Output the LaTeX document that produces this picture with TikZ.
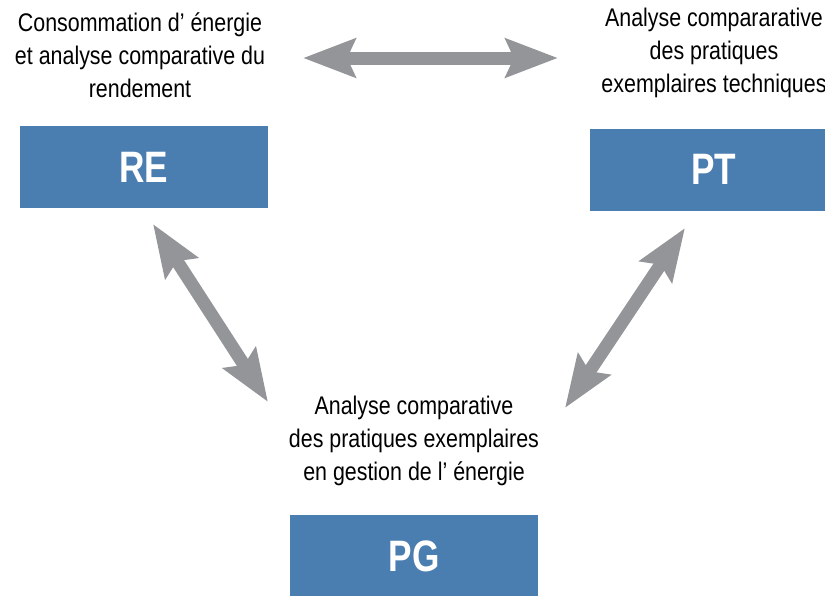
\documentclass[tikz,border=0pt]{standalone}
\usepackage{fontspec}
\usetikzlibrary{arrows.meta}
\newfontfamily\captfont[FakeStretch=0.84]{Liberation Sans}
\newfontfamily\boxfont[FakeStretch=0.8]{Liberation Sans Bold}
\definecolor{boxblue}{HTML}{4A7EB0}
\definecolor{arrgray}{HTML}{939598}
\tikzset{
  caption/.style={align=center, font=\captfont\fontsize{25.5}{33}\selectfont, text=black, inner sep=0pt},
  bluebox/.style={fill=boxblue, minimum width=248pt, minimum height=82pt, inner sep=0pt, text=white, font=\boxfont\fontsize{44}{44}\selectfont},
  bigarrow/.style={draw=arrgray, line width=13pt, {Stealth[length=52pt, width=38pt, inset=8pt, fill=arrgray]}-{Stealth[length=52pt, width=38pt, inset=8pt, fill=arrgray]}}
}
\begin{document}
\begin{tikzpicture}[x=1pt,y=-1pt]
\useasboundingbox (0,0) rectangle (825,595);
\clip (0,0) rectangle (825,595);
\node[caption] (ret) at (140,55) {Consommation d’ énergie\\et analyse comparative du\\rendement};
\node[caption] (ptt) at (714,53) {Analyse compararative\\des pratiques\\exemplaires techniques};
\node[caption] (pgt) at (414,441) {Analyse comparative\\des pratiques exemplaires\\en gestion de l’ énergie};
\node[bluebox] (re) at (144,167) {RE};
\node[bluebox] (pt) at (714,169.5) {PT};
\node[bluebox] (pg) at (414,556) {PG};
\coordinate (h1) at (303,58);
\coordinate (h2) at (558,58);
\coordinate (l1) at (153,224);
\coordinate (l2) at (268,402);
\coordinate (r1) at (685,228);
\coordinate (r2) at (565,408);
\draw[bigarrow] (h1) -- (h2);
\draw[bigarrow] (l1) -- (l2);
\draw[bigarrow] (r1) -- (r2);
\end{tikzpicture}
\end{document}
